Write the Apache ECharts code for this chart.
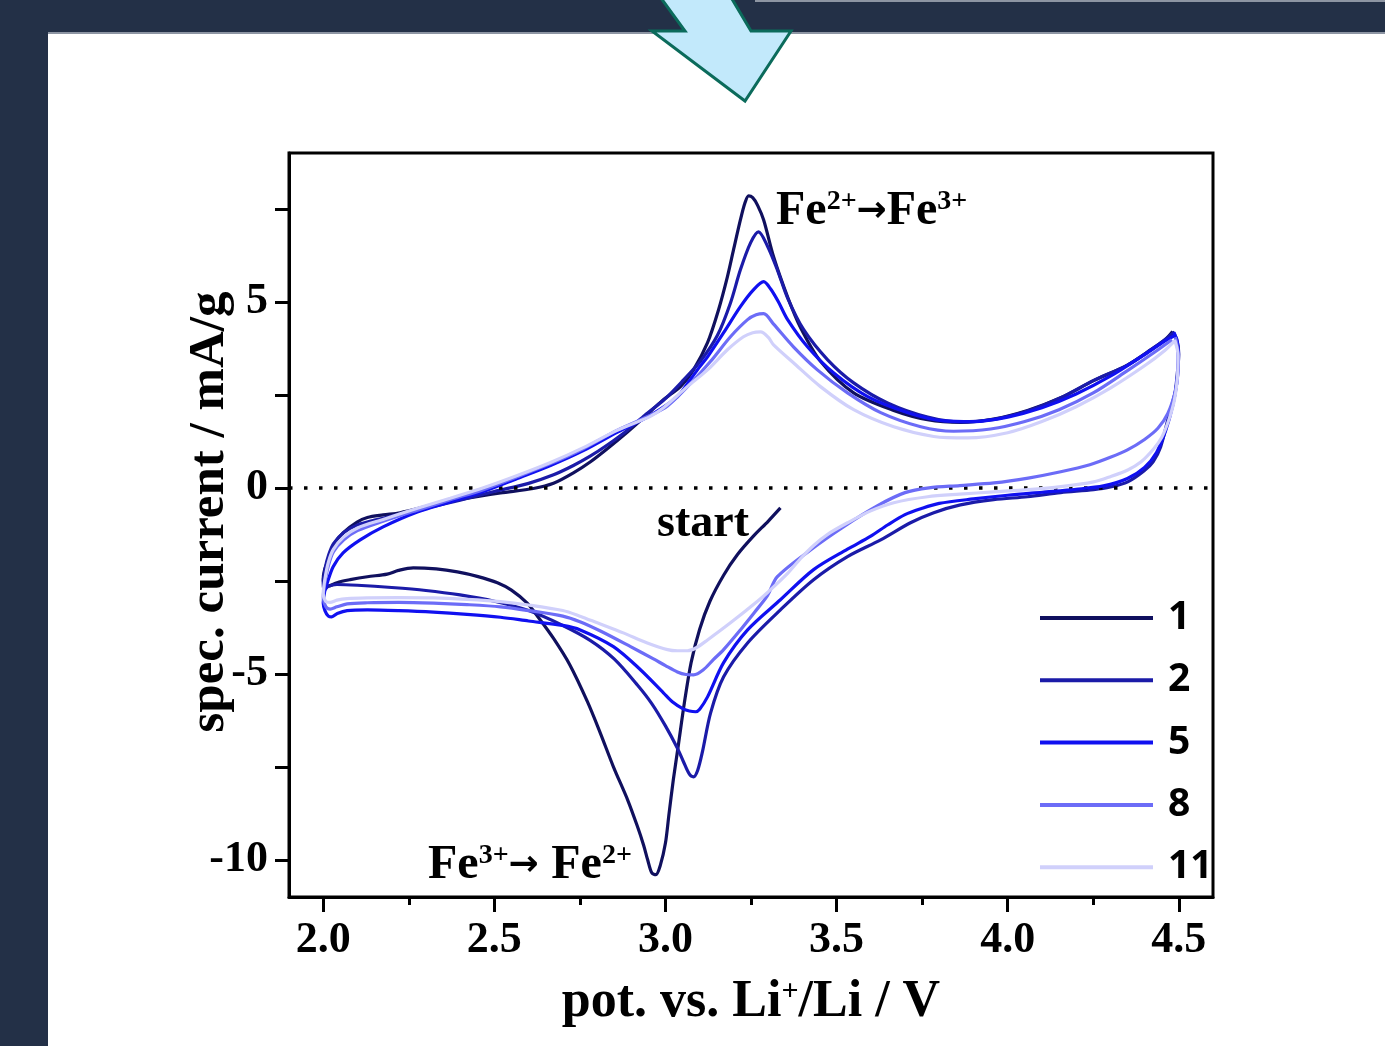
<!DOCTYPE html>
<html>
<head>
<meta charset="utf-8">
<title>CV cycles</title>
<script src="https://cdn.jsdelivr.net/npm/echarts@6/dist/echarts.min.js"></script>
<style>
  html, body { margin: 0; padding: 0; background: #233047; }
  #chart { width: 1385px; height: 1046px; }
</style>
</head>
<body>
<div id="chart"></div>
<script>
// potential (V vs Li+/Li), specific current (mA/g) -- points in sweep order
const cycle1 = [
  [3.336,-0.54],[3.30,-0.9],[3.257,-1.3],[3.21,-1.8],[3.17,-2.35],[3.13,-3.05],[3.10,-3.8],[3.075,-4.7],
  [3.055,-5.8],[3.038,-6.9],[3.023,-7.85],[3.01,-8.8],[3.0,-9.55],[2.985,-10.15],[2.972,-10.4],[2.96,-10.35],
  [2.948,-10.0],[2.936,-9.6],[2.918,-9.1],[2.89,-8.4],[2.848,-7.5],[2.81,-6.6],[2.772,-5.75],[2.72,-4.75],
  [2.673,-4.05],[2.63,-3.5],[2.596,-3.1],[2.55,-2.75],[2.509,-2.55],[2.45,-2.38],[2.392,-2.26],[2.33,-2.18],
  [2.263,-2.15],[2.22,-2.22],[2.187,-2.32],[2.129,-2.39],[2.079,-2.47],[2.04,-2.55],[2.02,-2.63],[2.006,-2.65],
  [2.0,-2.45],[2.004,-2.2],[2.012,-2.0],[2.029,-1.55],[2.058,-1.21],[2.099,-0.92],[2.129,-0.8],[2.175,-0.73],
  [2.225,-0.67],[2.322,-0.46],[2.421,-0.28],[2.518,-0.14],[2.614,-0.02],[2.673,0.12],[2.731,0.4],[2.781,0.7],
  [2.83,1.05],[2.889,1.5],[2.936,1.88],[2.994,2.37],[3.044,2.72],[3.082,3.17],[3.123,3.9],[3.155,4.78],
  [3.181,5.67],[3.199,6.4],[3.219,7.2],[3.232,7.65],[3.243,7.85],[3.255,7.8],[3.269,7.6],[3.287,7.2],
  [3.316,6.21],[3.357,5.13],[3.395,4.3],[3.453,3.4],[3.55,2.55],[3.667,2.08],[3.766,1.83],[3.863,1.76],
  [3.959,1.85],[4.058,2.08],[4.155,2.42],[4.251,2.88],[4.35,3.3],[4.42,3.72],[4.46,3.98],[4.482,4.2]
]
const cycle2 = [
  [4.482,4.2],[4.494,4.0],[4.5,3.6],[4.497,3.2],[4.49,2.6],[4.482,2.3],[4.468,1.83],[4.447,1.1],
  [4.425,0.7],[4.398,0.45],[4.351,0.16],[4.30,0.02],[4.251,-0.05],[4.155,-0.13],[4.058,-0.24],[3.959,-0.32],
  [3.862,-0.46],[3.784,-0.67],[3.716,-0.94],[3.629,-1.4],[3.532,-1.85],[3.433,-2.47],[3.336,-3.28],[3.24,-4.17],
  [3.17,-5.08],[3.132,-6.05],[3.108,-7.1],[3.094,-7.6],[3.082,-7.77],[3.07,-7.7],[3.052,-7.35],[3.035,-7.0],
  [3.0,-6.4],[2.96,-5.8],[2.918,-5.3],[2.85,-4.6],[2.78,-4.1],[2.70,-3.7],[2.60,-3.3],[2.50,-3.05],
  [2.40,-2.88],[2.30,-2.76],[2.20,-2.68],[2.10,-2.62],[2.04,-2.6],[2.015,-2.65],[2.003,-2.75],[2.0,-2.55],
  [2.006,-2.15],[2.016,-1.8],[2.03,-1.5],[2.06,-1.2],[2.10,-1.0],[2.15,-0.87],[2.2,-0.76],[2.3,-0.55],
  [2.4,-0.33],[2.5,-0.1],[2.6,0.12],[2.673,0.35],[2.731,0.6],[2.78,0.85],[2.83,1.15],[2.889,1.55],
  [2.94,1.95],[3.0,2.4],[3.053,2.9],[3.102,3.4],[3.152,4.1],[3.19,4.97],[3.219,5.86],[3.249,6.59],
  [3.272,6.88],[3.298,6.5],[3.327,5.86],[3.357,5.1],[3.404,4.25],[3.474,3.44],[3.55,2.82],[3.649,2.28],
  [3.766,1.9],[3.863,1.77],[3.96,1.84],[4.06,2.07],[4.155,2.42],[4.25,2.88],[4.35,3.3],[4.42,3.72],
  [4.465,4.02],[4.486,4.18]
]
const cycle5 = [
  [4.486,4.18],[4.496,3.9],[4.499,3.4],[4.494,2.8],[4.482,2.2],[4.462,1.55],[4.435,0.95],[4.40,0.55],
  [4.35,0.25],[4.28,0.05],[4.2,-0.04],[4.1,-0.12],[4.0,-0.2],[3.9,-0.3],[3.8,-0.42],[3.75,-0.55],
  [3.7,-0.72],[3.649,-1.0],[3.6,-1.3],[3.532,-1.65],[3.433,-2.2],[3.336,-3.01],[3.24,-3.82],[3.17,-4.7],
  [3.123,-5.62],[3.1,-5.95],[3.088,-6.02],[3.07,-6.0],[3.053,-5.95],[3.02,-5.75],[2.994,-5.51],[2.927,-4.89],
  [2.848,-4.27],[2.751,-3.82],[2.7,-3.7],[2.6,-3.58],[2.518,-3.48],[2.42,-3.4],[2.322,-3.34],[2.22,-3.3],
  [2.129,-3.28],[2.07,-3.3],[2.041,-3.38],[2.025,-3.47],[2.015,-3.45],[2.005,-3.3],[2.0,-3.1],[2.004,-2.8],
  [2.012,-2.55],[2.029,-2.12],[2.058,-1.75],[2.108,-1.4],[2.175,-1.05],[2.275,-0.65],[2.371,-0.38],[2.468,-0.1],
  [2.567,0.25],[2.664,0.6],[2.76,1.0],[2.86,1.5],[2.956,1.95],[3.035,2.45],[3.064,2.8],[3.10,3.25],
  [3.123,3.52],[3.17,4.17],[3.219,4.87],[3.257,5.32],[3.287,5.54],[3.307,5.35],[3.33,5.0],[3.357,4.52],
  [3.415,3.79],[3.491,3.09],[3.591,2.45],[3.708,2.02],[3.813,1.8],[3.9,1.78],[4.0,1.9],[4.1,2.15],
  [4.2,2.52],[4.3,3.0],[4.4,3.58],[4.46,3.95],[4.49,4.1]
]
const cycle8 = [
  [4.49,4.05],[4.498,3.6],[4.497,3.1],[4.49,2.6],[4.468,2.0],[4.439,1.6],[4.40,1.3],[4.35,1.02],
  [4.30,0.82],[4.24,0.62],[4.155,0.43],[4.06,0.26],[3.96,0.13],[3.86,0.06],[3.77,0.0],[3.70,-0.13],
  [3.62,-0.48],[3.52,-1.05],[3.424,-1.67],[3.327,-2.39],[3.298,-2.9],[3.26,-3.35],[3.219,-3.82],[3.17,-4.35],
  [3.14,-4.62],[3.11,-4.9],[3.082,-5.03],[3.06,-5.02],[3.035,-4.95],[3.0,-4.78],[2.965,-4.6],[2.898,-4.27],
  [2.81,-3.85],[2.75,-3.6],[2.7,-3.45],[2.6,-3.3],[2.518,-3.2],[2.42,-3.14],[2.322,-3.1],[2.22,-3.08],
  [2.129,-3.09],[2.07,-3.12],[2.04,-3.2],[2.02,-3.26],[2.008,-3.2],[2.0,-2.95],[2.005,-2.55],[2.015,-2.1],
  [2.03,-1.72],[2.06,-1.4],[2.1,-1.15],[2.175,-0.9],[2.275,-0.6],[2.371,-0.32],[2.468,-0.05],[2.567,0.3],
  [2.664,0.65],[2.76,1.05],[2.86,1.55],[2.956,1.95],[3.006,2.2],[3.073,2.8],[3.132,3.4],[3.19,4.06],
  [3.24,4.52],[3.265,4.65],[3.287,4.68],[3.316,4.4],[3.374,3.79],[3.444,3.17],[3.532,2.55],[3.629,2.02],
  [3.746,1.64],[3.842,1.52],[3.95,1.58],[4.05,1.78],[4.15,2.1],[4.25,2.55],[4.35,3.15],[4.43,3.65],
  [4.48,3.98]
]
const cycle11 = [
  [4.488,3.98],[4.498,3.55],[4.496,2.95],[4.487,2.35],[4.47,1.8],[4.45,1.35],[4.427,1.05],[4.39,0.7],
  [4.351,0.48],[4.30,0.3],[4.251,0.16],[4.155,0.03],[4.06,-0.05],[3.959,-0.11],[3.86,-0.17],[3.766,-0.24],
  [3.667,-0.4],[3.6,-0.62],[3.532,-0.94],[3.474,-1.25],[3.433,-1.55],[3.395,-1.9],[3.357,-2.3],[3.3,-2.8],
  [3.269,-3.05],[3.19,-3.63],[3.123,-4.09],[3.09,-4.3],[3.064,-4.38],[3.035,-4.38],[3.006,-4.35],[2.947,-4.17],
  [2.877,-3.9],[2.801,-3.63],[2.75,-3.45],[2.7,-3.3],[2.6,-3.15],[2.518,-3.06],[2.42,-3.0],[2.322,-2.96],
  [2.22,-2.95],[2.129,-2.96],[2.07,-2.98],[2.04,-3.02],[2.02,-3.08],[2.007,-3.05],[2.0,-2.85],[2.005,-2.45],
  [2.015,-2.0],[2.03,-1.65],[2.06,-1.32],[2.1,-1.08],[2.175,-0.85],[2.275,-0.55],[2.371,-0.28],[2.468,0.0],
  [2.567,0.33],[2.664,0.68],[2.76,1.08],[2.86,1.55],[2.956,1.92],[2.994,2.15],[3.064,2.72],[3.123,3.17],
  [3.181,3.71],[3.228,4.06],[3.255,4.17],[3.278,4.19],[3.3,4.05],[3.316,3.84],[3.374,3.36],[3.453,2.72],
  [3.55,2.1],[3.667,1.64],[3.784,1.38],[3.883,1.34],[4.0,1.48],[4.1,1.78],[4.2,2.18],[4.3,2.68],
  [4.4,3.28],[4.46,3.7],[4.488,3.95]
]

const cycleNames = ['1', '2', '5', '8', '11']
const cycleColors = ['#10105e', '#1b1ba8', '#1010f0', '#6c6cf7', '#d0d0fb']
const xMajorTicks = [2.0, 2.5, 3.0, 3.5, 4.0, 4.5]
const xMinorTicks = [2.25, 2.75, 3.25, 3.75, 4.25]
const yMajorTicks = [-10, -5, 0, 5]
const yAllTicks = [-10, -7.5, -5, -2.5, 0, 2.5, 5, 7.5]

const serif = "'Liberation Serif', 'Times New Roman', serif"
const chart = echarts.init(document.getElementById('chart'))

const cycles = [cycle1, cycle2, cycle5, cycle8, cycle11]
const series = cycles.map((data, i) => {
  let s = {
    name: cycleNames[i],
    type: 'line',
    data: data,
    xAxisIndex: 0,
    symbol: 'none',
    smooth: 0.3,
    itemStyle: { color: cycleColors[i] },
    lineStyle: { color: cycleColors[i], width: 3.2 },
    z: 3 + i
  }
  if (i === 0) {
    // dotted zero line
    s.markLine = {
      silent: true,
      symbol: 'none',
      label: { show: false },
      lineStyle: { color: '#000', type: [3.5, 11.5], width: 3.5 },
      data: [{ yAxis: 0 }]
    }
  }
  return s
})

const labelRich = {
  a: { fontSize: 48, fontWeight: 'bold', fontFamily: serif, fill: '#000' },
  s: { fontSize: 28, fontWeight: 'bold', fontFamily: serif, fill: '#000', verticalAlign: 'top' },
  r: { fontSize: 36, fontWeight: 'bold', fontFamily: "'DejaVu Sans', sans-serif", fill: '#000' }
}

const option = {
  animation: false,
  backgroundColor: '#233047',
  grid: {
    left: 289, top: 153, right: 172, bottom: 149,
    show: true, borderColor: '#000', borderWidth: 3, backgroundColor: 'transparent'
  },
  legend: {
    orient: 'vertical',
    left: 1040,
    top: 597,
    padding: 0,
    icon: 'rect',
    itemWidth: 113,
    itemHeight: 4,
    itemGap: 20.3,
    itemTextGap: 12,
    selectedMode: false,
    textStyle: {
      fontSize: 39, fontWeight: 'bold', color: '#000', lineHeight: 42,
      padding: [0, 0, 0, 10],
      fontFamily: "'Noto Sans', sans-serif"
    },
    data: cycleNames
  },
  xAxis: [
    {
      type: 'value',
      min: 1.9,
      max: 4.6,
      name: '{a|pot. vs. Li}{s|+}{a|/Li / V}',
      nameLocation: 'middle',
      nameGap: 80,
      nameTextStyle: {
        rich: {
          a: { fontSize: 52, fontWeight: 'bold', fontFamily: serif, color: '#000' },
          s: { fontSize: 30, fontWeight: 'bold', fontFamily: serif, color: '#000', verticalAlign: 'top' }
        }
      },
      axisLine: { onZero: false, lineStyle: { color: '#000', width: 3 } },
      axisTick: { customValues: xMajorTicks, length: 15, lineStyle: { color: '#000', width: 3 } },
      axisLabel: {
        customValues: xMajorTicks,
        margin: 22,
        fontSize: 44, fontWeight: 'bold', fontFamily: serif, color: '#000',
        formatter: (v) => v.toFixed(1)
      },
      splitLine: { show: false }
    },
    {
      type: 'value',
      min: 1.9,
      max: 4.6,
      position: 'bottom',
      axisLine: { show: false, onZero: false },
      axisTick: { customValues: xMinorTicks, length: 8, lineStyle: { color: '#000', width: 3 } },
      axisLabel: { show: false },
      splitLine: { show: false }
    }
  ],
  yAxis: {
    type: 'value',
    min: -11,
    max: 9,
    name: 'spec. current / mA/g',
    nameLocation: 'middle',
    nameGap: 54,
    nameMoveOverlap: false,
    nameTextStyle: { fontSize: 51, fontWeight: 'bold', fontFamily: serif, color: '#000', padding: [0, 0, 0, 26] },
    axisLine: { onZero: false, lineStyle: { color: '#000', width: 3 } },
    axisTick: { customValues: yAllTicks, length: 14, lineStyle: { color: '#000', width: 3 } },
    axisLabel: {
      customValues: yMajorTicks,
      margin: 21,
      fontSize: 44, fontWeight: 'bold', fontFamily: serif, color: '#000',
      formatter: (v) => String(v)
    },
    splitLine: { show: false }
  },
  graphic: [
    { type: 'rect', z: -10, shape: { x: 48, y: 33, width: 1337, height: 1013 }, style: { fill: '#fff' } },
    { type: 'rect', z: -9, shape: { x: 48, y: 32, width: 1337, height: 2 }, style: { fill: '#8d95a3' } },
    { type: 'rect', z: -9, shape: { x: 755, y: 0, width: 630, height: 2 }, style: { fill: '#8d95a3' } },
    {
      type: 'polygon', z: 100,
      shape: { points: [[658, -6], [729, -6], [751, 31], [791, 31], [745, 101], [652, 31], [685, 31]] },
      style: { fill: '#c2e9fb', stroke: '#0b6b5b', lineWidth: 3 }
    },
    {
      type: 'text', z: 50, left: 776, top: 188,
      style: { text: '{a|Fe}{s|2+}{r|→}{a|Fe}{s|3+}', rich: labelRich }
    },
    {
      type: 'text', z: 50, left: 428, top: 842,
      style: { text: '{a|Fe}{s|3+}{r|→ }{a|Fe}{s|2+}', rich: labelRich }
    },
    {
      type: 'text', z: 50, left: 657, top: 501,
      style: { text: 'start', fontSize: 46, fontWeight: 'bold', fontFamily: serif, fill: '#000' }
    }
  ],
  series: series
}

chart.setOption(option)
</script>
</body>
</html>
